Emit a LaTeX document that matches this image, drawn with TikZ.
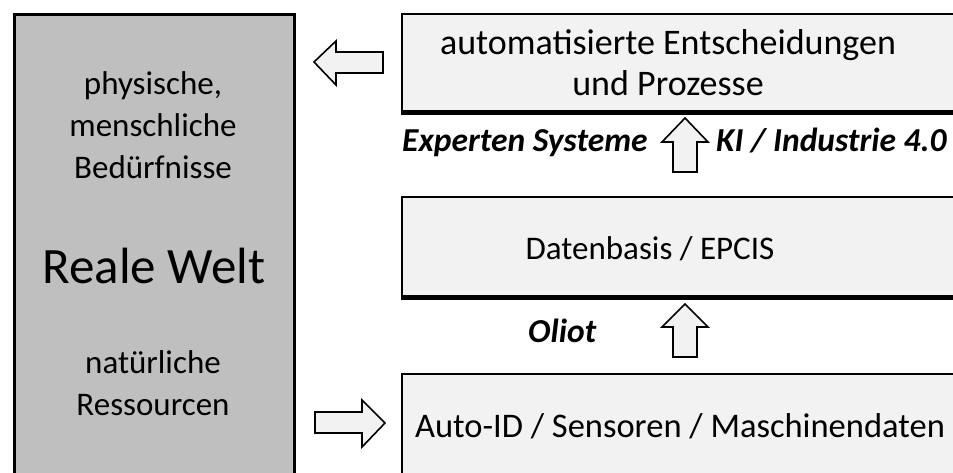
\documentclass[tikz,border=0pt]{standalone}
\usepackage{fontspec}
\setmainfont{Carlito}
\usetikzlibrary{positioning}

\definecolor{weltgrau}{HTML}{BFBFBF}
\definecolor{schichtgrau}{HTML}{F2F2F2}

\begin{document}
\begin{tikzpicture}[x=1pt, y=-1pt, every node/.style={inner sep=0pt},
		schicht/.style={draw, line width=2pt, fill=schichtgrau, anchor=north west},
		blockpfeil/.style={draw, line width=1.6pt, fill=schichtgrau, line join=miter},
		zeile/.style={font=\fontsize{33}{41}\selectfont, anchor=base},
		marke/.style={font=\fontsize{33.5}{38}\selectfont\bfseries\itshape, anchor=base west}]
		\clip (0,0) rectangle (953,473);

		% Reale Welt (left column)
		\node[schicht, fill=weltgrau, line width=3pt, minimum width=280, minimum height=480] (welt) at (13,13) {};
		\node[zeile] (w1) at (153,95) {physische,};
		\node[zeile] (w2) at (153,137) {menschliche};
		\node[zeile] (w3) at (153,179) {Bedürfnisse};
		\node[zeile, font=\fontsize{51}{58}\selectfont] (w4) at (154,283) {Reale Welt};
		\node[zeile] (w5) at (153,373) {natürliche};
		\node[zeile] (w6) at (153,415) {Ressourcen};

		% Three layers on the right
		\node[schicht, minimum width=600, minimum height=99] (entsch) at (401,13) {};
		\node[schicht, minimum width=600, minimum height=101] (daten) at (401,196) {};
		\node[schicht, minimum width=600, minimum height=120] (autoid) at (401,373) {};
		\draw[line width=4.5pt] ([yshift=1.5pt]entsch.south west) -- ([yshift=1.5pt]entsch.south east);
		\draw[line width=4.5pt] ([yshift=1.5pt]daten.south west) -- ([yshift=1.5pt]daten.south east);

		% Layer texts
		\node[zeile, font=\fontsize{36}{41}\selectfont] (e1) at (668,55) {automatisierte Entscheidungen};
		\node[zeile, font=\fontsize{36}{41}\selectfont] (e2) at (668,96) {und Prozesse};
		\node[zeile] (d1) at (650,259) {Datenbasis / EPCIS};
		\node[zeile, font=\fontsize{34.5}{41}\selectfont] (a1) at (680,437) {Auto-ID / Sensoren / Maschinendaten};

		% Block arrows
		\coordinate (links)  at (314,62);
		\coordinate (rechts) at (385,423);
		\coordinate (hoch1)  at (685,118);
		\coordinate (hoch2)  at (685,304);
		\draw[blockpfeil, shift={(links)}] (0,0) -- (22,-21) -- (22,-10) -- (69,-10)
			-- (69,11) -- (22,11) -- (22,23) -- cycle;
		\draw[blockpfeil, shift={(rechts)}] (0,0) -- (-23,-23) -- (-23,-11) -- (-70,-11)
			-- (-70,10) -- (-23,10) -- (-23,24) -- cycle;
		\draw[blockpfeil, shift={(hoch1)}] (0,0) -- (23,24) -- (12,24) -- (12,54)
			-- (-12,54) -- (-12,24) -- (-23,24) -- cycle;
		\draw[blockpfeil, shift={(hoch2)}] (0,0) -- (23,23) -- (12,23) -- (12,53)
			-- (-12,53) -- (-12,23) -- (-23,23) -- cycle;

		% Labels at the arrows
		\node[marke] (expert) at (402,152) {Experten Systeme};
		\node[marke] (ki)     at (716,152) {KI / Industrie 4.0};
		\node[marke] (oliot)  at (528,342) {Oliot};
	\end{tikzpicture}
\end{document}
